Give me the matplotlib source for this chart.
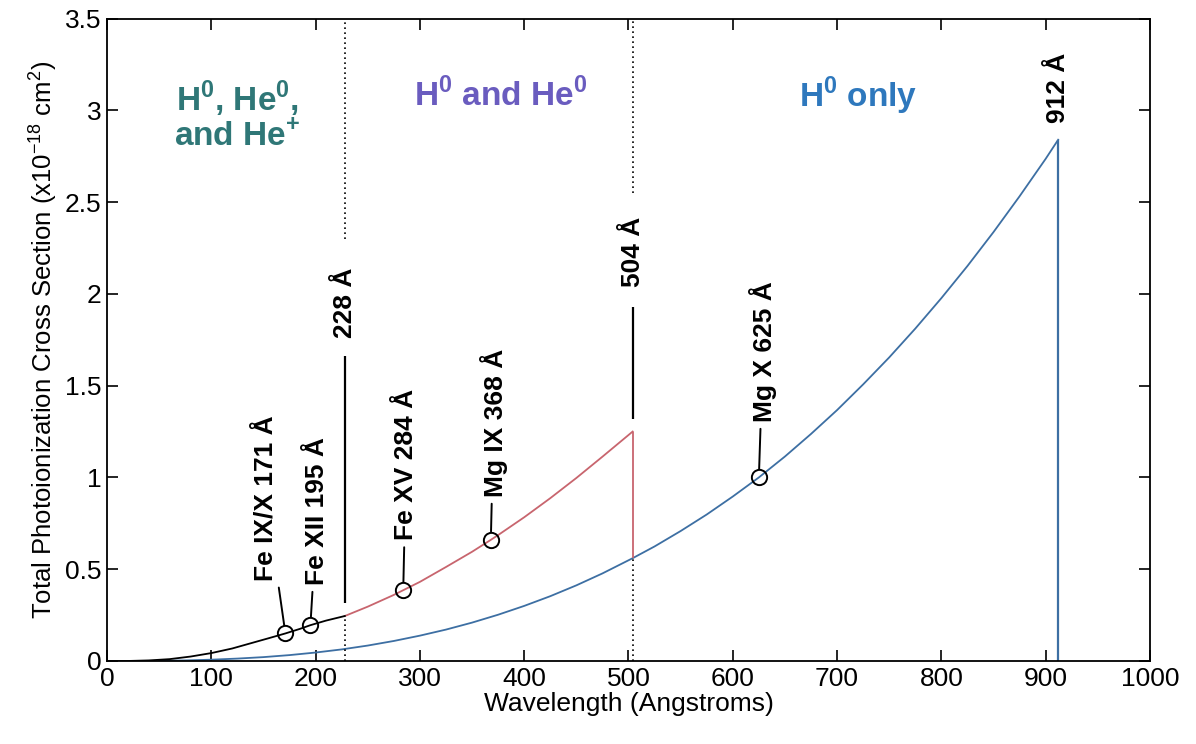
import matplotlib
matplotlib.use("Agg")
import matplotlib.pyplot as plt

# values
# H0 only (blue)
blue_wl = [50, 75, 100, 125, 150, 175, 200, 225, 250, 275, 300, 325, 350, 375, 400,
           425, 450, 475, 504, 525, 550, 575, 600, 625, 650, 675, 700, 725, 750,
           775, 800, 825, 850, 875, 900, 912]
blue_sigma = [0.001, 0.003, 0.007, 0.013, 0.021, 0.032, 0.046, 0.063, 0.084, 0.109,
              0.138, 0.171, 0.209, 0.252, 0.300, 0.353, 0.412, 0.477, 0.56, 0.624,
              0.708, 0.798, 0.896, 1.0, 1.114, 1.237, 1.367, 1.507, 1.654, 1.811,
              1.977, 2.152, 2.337, 2.532, 2.736, 2.84]

# H0 and He0 (red)
red_wl = [228, 250, 275, 300, 325, 350, 368, 375, 400, 425, 450, 475, 504]
red_sigma = [0.245, 0.296, 0.36, 0.431, 0.512, 0.595, 0.66, 0.686, 0.783, 0.887,
             0.997, 1.113, 1.25]

# H0, He0 and He+ (black)
black_wl = [0, 20, 40, 60, 80, 100, 120, 140, 155, 171, 185, 195, 210, 228]
black_sigma = [0, 0, 0.003, 0.01, 0.024, 0.043, 0.068, 0.1, 0.124, 0.15, 0.175,
               0.195, 0.22, 0.245]

# EUV lines marked with circles
line_names = ["Fe IX/X 171 Å", "Fe XII 195 Å", "Fe XV 284 Å", "Mg IX 368 Å", "Mg X 625 Å"]
line_wl = [171, 195, 284, 368, 625]
line_sigma = [0.15, 0.195, 0.385, 0.66, 1.0]

# ionization edges
edge_wl = [228, 504, 912]
edge_top = [0.245, 1.25, 2.84]
edge_bottom = [0.245, 0.56, 0.0]

plt.rcParams["mathtext.fontset"] = "custom"
plt.rcParams["mathtext.rm"] = "Liberation Sans"
plt.rcParams["mathtext.bf"] = "Liberation Sans:bold"

narrow = ["Liberation Sans Narrow", "Liberation Sans", "DejaVu Sans"]
arial = ["Liberation Sans", "DejaVu Sans"]
lab_size = 19

fig = plt.figure(figsize=(11.96, 7.44), dpi=100)
ax = fig.add_axes([0.0895, 0.1116, 0.872, 0.8634])

blue = "#3d6fa3"
red = "#c8656e"

ax.plot(blue_wl, blue_sigma, color=blue, lw=1.3)
ax.plot(red_wl, red_sigma, color=red, lw=1.3)
ax.plot(black_wl, black_sigma, color="black", lw=1.3)

# vertical drops at the edges
ax.vlines(edge_wl[1], edge_bottom[1], edge_top[1], color=red, lw=1.3)
ax.vlines(edge_wl[2], edge_bottom[2], edge_top[2], color=blue, lw=1.6)

# dotted boundaries between regions
ax.vlines(edge_wl[0], 2.3, 3.5, color="black", lw=1.2, linestyles=(0, (1, 2)))
ax.vlines(edge_wl[0], 0, edge_top[0], color="black", lw=1.2, linestyles=(0, (1, 2)))
ax.vlines(edge_wl[0], edge_top[0] + 0.07, 1.66, color="black", lw=1.6)
ax.vlines(edge_wl[1], 2.55, 3.5, color="black", lw=1.2, linestyles=(0, (1, 2)))
ax.vlines(edge_wl[1], 0, edge_bottom[1], color="black", lw=1.2, linestyles=(0, (1, 2)))
ax.vlines(edge_wl[1], edge_top[1] + 0.07, 1.93, color="black", lw=1.6)

edge_label_y = [1.76, 2.04, 2.93]
for wl, y in zip(edge_wl, edge_label_y):
    ax.text(wl, y, f"{wl} Å", rotation=90, ha="center", va="bottom",
            fontsize=lab_size, fontweight="bold", family=arial)

# circled lines with leaders and labels
ax.plot(line_wl, line_sigma, "o", ms=11, mfc="none", mec="black", mew=1.4)
label_offsets = [(-14, 38), (5, 29), (2, 36), (2, 31), (3, 40)]
for name, wl, s, off in zip(line_names, line_wl, line_sigma, label_offsets):
    ax.annotate(name, xy=(wl, s), xytext=off, textcoords="offset points",
                rotation=90, ha="center", va="bottom",
                fontsize=lab_size, fontweight="bold", family=arial,
                arrowprops=dict(arrowstyle="-", color="black", lw=1.4,
                                shrinkA=3, shrinkB=6))

# region labels
ax.text(125, 2.97, "H$^{\\mathbf{0}}$, He$^{\\mathbf{0}}$,\nand He$^{\\mathbf{+}}$",
        ha="center", va="center", fontsize=24, fontweight="bold",
        color="#2f7777", family=arial, linespacing=1.1)
ax.text(377, 3.08, "H$^{\\mathbf{0}}$ and He$^{\\mathbf{0}}$", ha="center", va="center",
        fontsize=24, fontweight="bold", color="#6a5cbf", family=arial)
ax.text(720, 3.08, "H$^{\\mathbf{0}}$ only", ha="center", va="center",
        fontsize=24, fontweight="bold", color="#2e78bd", family=arial)

ax.set_xlim(0, 1000)
ax.set_ylim(0, 3.5)
ax.set_xticks(range(0, 1001, 100))
ax.set_yticks([0, 0.5, 1, 1.5, 2, 2.5, 3, 3.5])
ax.set_yticklabels(["0", "0.5", "1", "1.5", "2", "2.5", "3", "3.5"])
ax.tick_params(direction="in", length=8, width=1.2, top=True, right=True,
               labelsize=19, pad=4)
for lab in ax.get_xticklabels() + ax.get_yticklabels():
    lab.set_family(narrow)
for sp in ax.spines.values():
    sp.set_linewidth(1.3)

ax.set_xlabel("Wavelength (Angstroms)", fontsize=19, family=narrow, labelpad=1)
ax.set_ylabel("Total Photoionization Cross Section (x10$^{-18}$ cm$^{2}$)",
              fontsize=18.5, family=narrow, labelpad=4)

fig.savefig("out.png", dpi=100)
